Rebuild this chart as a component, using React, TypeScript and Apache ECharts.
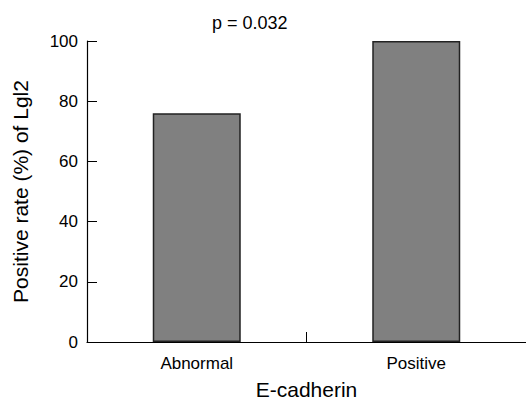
import React, { useEffect, useRef } from "react";
import * as echarts from "echarts";

const categories = ["Abnormal", "Positive"];
const values = [76, 100];
const yTicks = [0, 20, 40, 60, 80, 100];
const titleText = "p = 0.032";
const xName = "E-cadherin";
const yName = "Positive rate (%) of Lgl2";

const FONT = "'Liberation Sans', Arial, sans-serif";

export default function App() {
  const ref = useRef<HTMLDivElement>(null);
  useEffect(() => {
    if (!ref.current) return;
    const chart = echarts.init(ref.current, null, { renderer: "svg" });
    chart.setOption({
      animation: false,
      backgroundColor: "#ffffff",
      textStyle: { fontFamily: FONT, color: "#000" },
      title: {
        text: titleText,
        left: 207,
        top: 9,
        textStyle: { fontFamily: FONT, fontSize: 18, fontWeight: "normal", color: "#000" },
      },
      grid: {
        left: 87,
        right: 0,
        top: 41,
        bottom: 60,
        containLabel: false,
        outerBoundsMode: "none",
      },
      xAxis: {
        type: "category",
        data: categories,
        name: xName,
        nameLocation: "middle",
        nameGap: 37,
        nameTextStyle: { fontFamily: FONT, fontSize: 21, lineHeight: 21, color: "#000" },
        axisLine: { lineStyle: { color: "#000", width: 1.2 } },
        axisTick: {
          show: true,
          inside: true,
          length: 10,
          alignWithLabel: false,
          lineStyle: { color: "#000", width: 1 },
        },
        axisLabel: { fontFamily: FONT, fontSize: 17, color: "#000", margin: 13 },
      },
      yAxis: {
        type: "value",
        min: yTicks[0],
        max: yTicks[yTicks.length - 1],
        interval: yTicks[1] - yTicks[0],
        name: yName,
        nameLocation: "middle",
        nameGap: 56,
        nameTextStyle: { fontFamily: FONT, fontSize: 21, color: "#000" },
        axisLine: { show: true, lineStyle: { color: "#000", width: 1.2 } },
        axisTick: { show: true, inside: true, length: 10, lineStyle: { color: "#000", width: 1 } },
        axisLabel: { fontFamily: FONT, fontSize: 17, color: "#000", margin: 9 },
        splitLine: { show: false },
      },
      series: [
        {
          type: "bar",
          data: values,
          barWidth: 88,
          itemStyle: { color: "#808080", borderColor: "#222", borderWidth: 1.5 },
        },
      ],
    });
    return () => chart.dispose();
  }, []);
  return (
    <div
      ref={ref}
      style={{ position: "fixed", left: 0, top: 0, width: 526, height: 402 }}
    />
  );
}
